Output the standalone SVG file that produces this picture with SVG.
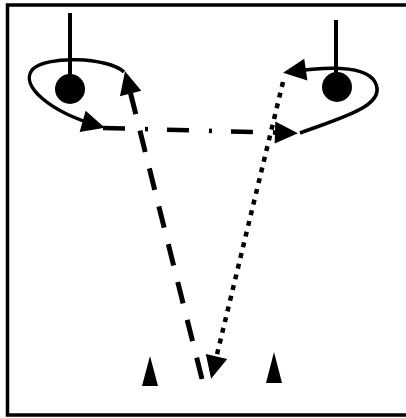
<svg xmlns="http://www.w3.org/2000/svg" width="406" height="418" viewBox="0 0 406 418">
<style>
.frame{fill:none;stroke:#000;stroke-width:3.5}
.stick{stroke:#000;stroke-width:4;fill:none}
.ball{fill:#000}
.cone{fill:#000}
.loop{fill:none;stroke:#000;stroke-width:3.5;marker-end:url(#ah)}
.dashdot{fill:none;stroke:#000;stroke-width:4.5;stroke-dasharray:22 20 3 19;marker-end:url(#ah)}
.dashed{fill:none;stroke:#000;stroke-width:5;stroke-dasharray:22 17;marker-end:url(#ah)}
.dotted{fill:none;stroke:#000;stroke-width:4.5;stroke-dasharray:5 6;marker-end:url(#ah)}
</style>
<defs>
<marker id="ah" viewBox="-20 -13 28 26" refX="0" refY="0" markerWidth="28" markerHeight="26" markerUnits="userSpaceOnUse" orient="auto">
<path d="M6,0 L-17,-11 L-17,11 Z" fill="#000"/>
</marker>
</defs>
<rect width="406" height="418" fill="#fff"/>
<rect class="frame" x="7.5" y="5" width="410" height="410"/>
<g id="player-left">
<line class="stick" x1="70" y1="13" x2="70" y2="88"/>
<circle class="ball" cx="70" cy="89" r="15"/>
</g>
<g id="player-right">
<line class="stick" x1="336" y1="20" x2="336" y2="86"/>
<circle class="ball" cx="337" cy="87" r="15"/>
</g>
<g id="cone-left">
<polygon class="cone" points="150,356 142,386 158,386"/>
</g>
<g id="cone-right">
<polygon class="cone" points="274,352 266,383 282,383"/>
</g>
<g id="connectors">
<path class="loop" d="M124,72 C108,57 45,55 32,70 C20,86 50,112 99,126"/>
<path class="loop" d="M300,133 C340,118 388,106 375,82 C366,66 330,66 289,72"/>
<path class="dashdot" d="M103,128 L292,133"/>
<path class="dashed" d="M202,379 L126.5,77"/>
<path class="dotted" d="M283,82 L212.5,373"/>
</g>
</svg>
